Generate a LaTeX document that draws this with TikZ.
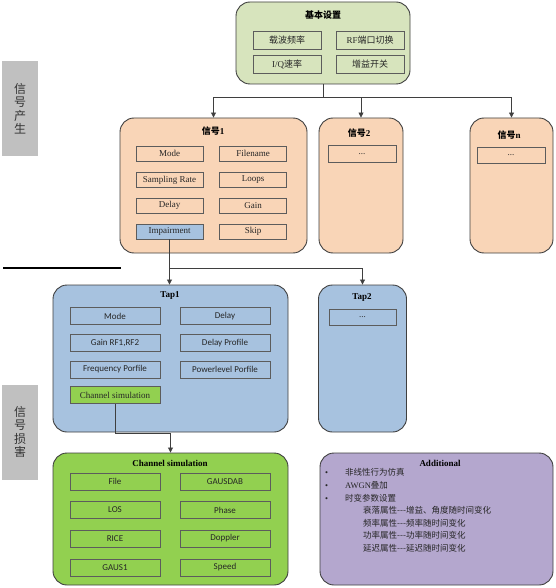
\documentclass[tikz,border=0pt]{standalone}
\usepackage{fontspec}
\setmainfont{Liberation Serif}
\setsansfont{Carlito}
\newfontfamily\cjk{Noto Sans CJK SC}
\usepackage{xcolor}
\usepackage{tikz}
\usetikzlibrary{arrows.meta, positioning}

\definecolor{basicgreen}{HTML}{D7E4BD}
\definecolor{sigpeach}{HTML}{F9D5B7}
\definecolor{tapblue}{HTML}{A7C2DF}
\definecolor{chgreen}{HTML}{92D050}
\definecolor{addpurple}{HTML}{B4A7CE}
\definecolor{sidegray}{HTML}{C0C0C0}
\definecolor{edgegray}{HTML}{3F3F3F}
\definecolor{itemgray}{HTML}{5C5C5C}

\begin{document}
\begin{tikzpicture}[x=1pt, y=-1pt, font=\fontsize{9}{10}\selectfont,
  outer/.style={draw=edgegray, line width=0.9pt, rounded corners=14pt, inner sep=0pt},
  heading/.style={font=\fontsize{9}{10}\selectfont\bfseries, inner sep=1pt},
  item/.style={draw=itemgray, line width=0.9pt, inner sep=0pt, text=black!85},
  sigitem/.style={item, minimum width=67pt, minimum height=15pt},
  tapitem/.style={item, minimum width=90pt, minimum height=17pt, font=\fontsize{9}{10}\selectfont\sffamily},
  side/.style={fill=sidegray, minimum width=36pt, minimum height=95pt, align=center, inner sep=0pt,
    font=\fontsize{12}{13.5}\selectfont\cjk, text=black!80},
  link/.style={draw=edgegray, line width=0.8pt},
  arr/.style={link, -{Triangle[width=5pt,length=5pt]}}]

\useasboundingbox (0,0) rectangle (555,588);

% Side labels
\node[side] (gen) at (20,108.5) {信\\号\\产\\生};
\node[side] (imp-label) at (20,432) {信\\号\\损\\害};
\draw[line width=1.2pt] (3,268) -- (121,268);

% Basic settings
\node[outer, fill=basicgreen, minimum width=174pt, minimum height=82pt] (basic) at (323,43) {};
\node[heading] (basic-title) at (323,15) {\cjk\bfseries 基本设置};
\node[item, minimum width=68pt, minimum height=18pt] (carrier) at (287,40.5) {\cjk 载波频率};
\node[item, minimum width=68pt, minimum height=18pt] (rfport) at (370,40.5) {RF{\cjk 端口切换}};
\node[item, minimum width=68pt, minimum height=18pt] (iqrate) at (287,64.5) {I/Q{\cjk 速率}};
\node[item, minimum width=68pt, minimum height=18pt] (gainsw) at (370,64.5) {\cjk 增益开关};

% Signals
\node[outer, fill=sigpeach, minimum width=187pt, minimum height=135pt] (sig1) at (213.5,185.5) {};
\node[heading] (sig1-title) at (213,131) {{\cjk\bfseries 信号}1};
\node[sigitem] (mode) at (169.5,153.5) {Mode};
\node[sigitem] (filename) at (253,153.5) {Filename};
\node[sigitem] (srate) at (169.5,180) {Sampling Rate};
\node[sigitem] (loops) at (253,180) {Loops};
\node[sigitem] (delay) at (169.5,205.5) {Delay};
\node[sigitem] (gain) at (253,205.5) {Gain};
\node[sigitem, fill=tapblue] (imp) at (169.5,231.5) {Impairment};
\node[sigitem] (skip) at (253,231.5) {Skip};

\node[outer, fill=sigpeach, minimum width=84pt, minimum height=135pt] (sig2) at (361,185.5) {};
\node[heading] (sig2-title) at (359,133) {{\cjk\bfseries 信号}2};
\node[item, minimum width=68pt, minimum height=17pt] (sig2-more) at (362,154) {...};

\node[outer, fill=sigpeach, minimum width=83pt, minimum height=135pt] (sign) at (511.5,185.5) {};
\node[heading] (sign-title) at (509,135) {{\cjk\bfseries 信号}n};
\node[item, minimum width=68pt, minimum height=16pt] (sign-more) at (511,155) {...};

% Taps
\node[outer, fill=tapblue, minimum width=235pt, minimum height=147pt] (tap1) at (170.5,358.5) {};
\node[heading] (tap1-title) at (170,295) {Tap1};
\node[tapitem] (tmode) at (115,316) {Mode};
\node[tapitem] (tdelay) at (225,316) {Delay};
\node[tapitem] (tgain) at (115,343) {Gain RF1,RF2};
\node[tapitem] (tdprof) at (225,343) {Delay Profile};
\node[tapitem] (tfprof) at (115,369.5) {Frequency Porfile};
\node[tapitem] (tpprof) at (225,369.5) {Powerlevel Porfile};
\node[tapitem, fill=chgreen, font=\fontsize{9}{10}\selectfont\rmfamily] (chsim) at (115,395) {Channel simulation};

\node[outer, fill=tapblue, minimum width=88pt, minimum height=147pt] (tap2) at (362.5,358.5) {};
\node[heading] (tap2-title) at (362,297) {Tap2};
\node[item, minimum width=67pt, minimum height=16pt] (tap2-more) at (362.5,317) {...};

% Channel simulation
\node[outer, fill=chgreen, minimum width=235pt, minimum height=132pt] (chbox) at (170.5,519) {};
\node[heading] (chbox-title) at (170,463) {Channel simulation};
\node[tapitem] (cfile) at (115,481.5) {File};
\node[tapitem] (cgausdab) at (225,481.5) {GAUSDAB};
\node[tapitem] (clos) at (115,510) {LOS};
\node[tapitem] (cphase) at (225,510) {Phase};
\node[tapitem] (crice) at (115,538.5) {RICE};
\node[tapitem] (cdoppler) at (225,538.5) {Doppler};
\node[tapitem] (cgaus) at (115,567.5) {GAUS1};
\node[tapitem] (cspeed) at (225,567.5) {Speed};

% Additional
\node[outer, fill=addpurple, minimum width=233pt, minimum height=132pt] (add) at (436.5,519) {};
\node[heading] (add-title) at (440,463) {Additional};
\node[anchor=north west, align=left, inner sep=0pt, font=\fontsize{8.5}{12.6}\selectfont, text=black!85] (add-list) at (325,468.5)
  {\makebox[20pt][l]{\textbullet}{\cjk 非线性行为仿真}\\
   \makebox[20pt][l]{\textbullet}AWGN{\cjk 叠加}\\
   \makebox[20pt][l]{\textbullet}{\cjk 时变参数设置}\\
   \hspace{38pt}{\cjk 衰落属性---增益、角度随时间变化}\\
   \hspace{38pt}{\cjk 频率属性---频率随时间变化}\\
   \hspace{38pt}{\cjk 功率属性---功率随时间变化}\\
   \hspace{38pt}{\cjk 延迟属性---延迟随时间变化}};

% Arrows
\coordinate (bus1) at (323,97);
\coordinate (bus2) at (169.5,268);
\coordinate (bus3) at (115,433);
\draw[link] (basic) -- (bus1);
\draw[arr] (bus1) -| (sig1);
\draw[arr] (bus1) -| (sig2);
\draw[arr] (bus1) -| (sign);
\draw[arr] (imp) -- (imp |- tap1.north);
\draw[arr] (bus2) -| (tap2);
\draw[link] (chsim) -- (bus3);
\draw[arr] (bus3) -| (chbox);

\end{tikzpicture}
\end{document}
